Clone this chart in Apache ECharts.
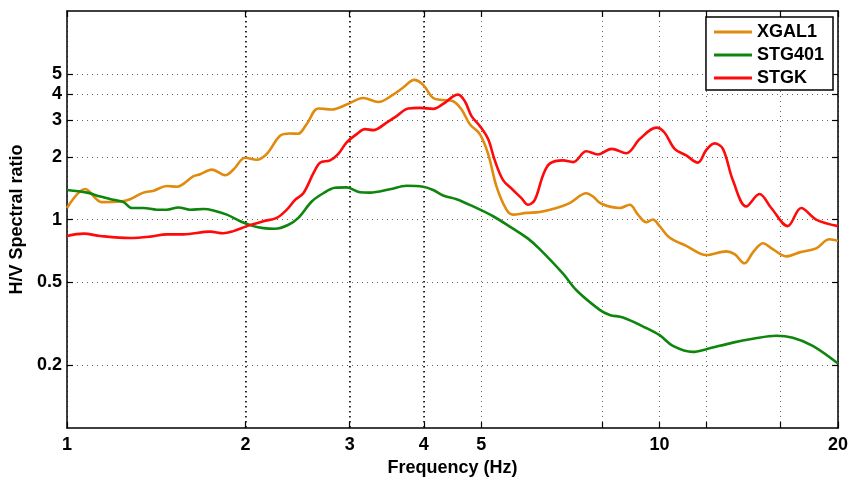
<!DOCTYPE html>
<html>
<head>
<meta charset="utf-8">
<script src="https://cdn.jsdelivr.net/npm/echarts@6/dist/echarts.min.js"></script>
<style>
  html, body { margin: 0; padding: 0; background: #fff; }
  #chart { width: 853px; height: 482px; }
</style>
</head>
<body>
<div id="chart"></div>
<script>
// H/V spectral ratio curves for three stations (frequency in Hz, ratio)
const xgalFreq = [1.000,1.073,1.145,1.230,1.278,1.346,1.400,1.474,1.532,1.635,1.678,1.756,1.849,1.909,1.998,2.090,2.174,2.288,2.378,2.454,2.538,2.655,2.797,2.965,3.162,3.352,3.551,3.692,3.854,3.990,4.148,4.313,4.483,4.632,4.784,4.973,5.136,5.307,5.515,5.658,5.961,6.277,6.698,7.051,7.522,7.719,7.975,8.564,8.902,9.193,9.497,9.743,10.00,10.39,11.09,11.99,12.96,13.38,13.91,14.37,14.94,15.52,16.35,17.22,18.37,19.34,20.00];
const xgalRatio = [1.136,1.401,1.212,1.220,1.252,1.346,1.375,1.448,1.437,1.614,1.650,1.736,1.632,1.736,1.979,1.936,2.066,2.522,2.586,2.577,2.873,3.410,3.372,3.560,3.826,3.663,3.970,4.298,4.675,4.426,3.826,3.743,3.690,3.372,2.864,2.569,2.066,1.437,1.115,1.056,1.076,1.087,1.136,1.199,1.337,1.289,1.190,1.136,1.177,1.056,0.971,1.000,0.930,0.820,0.748,0.676,0.704,0.683,0.617,0.696,0.770,0.721,0.666,0.696,0.727,0.804,0.790];

const stgFreq = [1.000,1.081,1.138,1.198,1.246,1.287,1.346,1.418,1.474,1.542,1.614,1.699,1.766,1.861,1.960,2.063,2.145,2.244,2.360,2.457,2.588,2.707,2.833,2.965,3.121,3.245,3.507,3.741,3.990,4.148,4.313,4.543,4.845,5.236,5.658,5.998,6.277,6.871,7.238,7.924,8.237,8.673,9.497,10.00,10.53,11.38,11.99,13.29,14.37,15.73,16.78,18.13,20.00];
const stgRatio = [1.386,1.346,1.289,1.243,1.212,1.136,1.136,1.115,1.115,1.143,1.115,1.123,1.106,1.056,0.982,0.930,0.910,0.904,0.942,1.019,1.220,1.337,1.421,1.427,1.352,1.346,1.397,1.453,1.437,1.386,1.303,1.252,1.156,1.037,0.904,0.810,0.721,0.550,0.458,0.369,0.349,0.339,0.302,0.279,0.248,0.232,0.239,0.257,0.268,0.277,0.271,0.248,0.204];

const stgkFreq = [1.000,1.067,1.138,1.278,1.382,1.474,1.572,1.744,1.836,1.909,2.011,2.145,2.259,2.349,2.426,2.505,2.604,2.673,2.779,2.870,2.965,3.082,3.183,3.287,3.462,3.599,3.765,3.939,4.148,4.313,4.483,4.571,4.692,4.815,4.973,5.136,5.271,5.443,5.658,5.846,5.998,6.157,6.358,6.525,6.871,7.144,7.522,7.870,8.292,8.788,9.254,9.872,10.19,10.60,11.09,11.60,11.99,12.38,12.79,13.29,14.00,14.74,15.43,16.45,17.33,18.37,20.00];
const stgkRatio = [0.834,0.856,0.834,0.816,0.828,0.849,0.849,0.875,0.859,0.880,0.930,0.982,1.019,1.115,1.243,1.337,1.663,1.874,1.921,2.066,2.344,2.569,2.713,2.684,2.915,3.135,3.410,3.432,3.395,3.584,3.897,3.970,3.690,3.135,2.812,2.432,1.921,1.546,1.386,1.266,1.177,1.243,1.632,1.854,1.921,1.886,2.126,2.051,2.183,2.080,2.432,2.760,2.614,2.183,2.029,1.874,2.159,2.319,2.183,1.546,1.156,1.327,1.136,0.930,1.136,1.000,0.930];

const seriesNames = ['XGAL1', 'STG401', 'STGK'];

// Tick positions and labelled ticks
const freqTicks = [1, 2, 3, 4, 5, 8, 10, 12, 16, 20];
const freqLabels = [1, 2, 3, 4, 5, 10, 20];
const freqMajorGrid = [2, 3, 4];
const ratioTicks = [0.2, 0.5, 1, 2, 3, 4, 5];

const pairs = (xs, ys) => xs.map((x, i) => [x, ys[i]]);

const labelFont = { fontFamily: 'Liberation Sans', fontWeight: 'bold', fontSize: 18, color: '#000' };
const frameLine = { show: true, lineStyle: { color: '#000', width: 1.5 } };
const greyGrid = { show: true, lineStyle: { color: '#666', width: 1, type: [1, 4] } };

const chart = echarts.init(document.getElementById('chart'), null, { renderer: 'canvas' });

chart.setOption({
  animation: false,
  backgroundColor: '#fff',
  grid: { left: 67, right: 15, top: 11, bottom: 53, containLabel: false },
  legend: {
    orient: 'vertical',
    right: 20,
    top: 17,
    padding: [6, 9, 3, 8],
    itemGap: 5,
    itemWidth: 38,
    itemHeight: 3,
    icon: 'rect',
    borderColor: '#000',
    borderWidth: 1.5,
    backgroundColor: '#fff',
    textStyle: Object.assign({ lineHeight: 18, padding: [0, 0, 0, 0] }, labelFont),
    data: seriesNames
  },
  xAxis: [
    {
      type: 'log', logBase: 10, min: 1, max: 20,
      name: 'Frequency (Hz)', nameLocation: 'middle', nameGap: 23,
      nameTextStyle: labelFont,
      axisLine: frameLine,
      axisTick: { show: true, inside: true, length: 6, customValues: freqTicks, lineStyle: { color: '#000', width: 1.2 } },
      axisLabel: Object.assign({ customValues: freqLabels, margin: 8, formatter: v => String(v) }, labelFont),
      splitLine: greyGrid,
      minorTick: { show: false }
    },
    {
      type: 'log', logBase: 10, min: 1, max: 20, position: 'top',
      axisLine: frameLine,
      axisTick: { show: true, inside: true, length: 6, customValues: freqTicks, lineStyle: { color: '#000', width: 1.2 } },
      axisLabel: { show: false },
      splitLine: { show: false }
    },
    {
      type: 'log', logBase: 10, min: 1, max: 20, position: 'bottom',
      axisLine: { show: false },
      axisTick: { show: false, customValues: freqMajorGrid },
      axisLabel: { show: false },
      splitLine: { show: true, lineStyle: { color: '#000', width: 1.5, type: [1.5, 3.5] } }
    }
  ],
  yAxis: [
    {
      type: 'log', logBase: 10, min: 0.1, max: 10,
      name: 'H/V Spectral ratio', nameLocation: 'middle', nameGap: 34,
      nameTextStyle: labelFont,
      axisLine: frameLine,
      axisTick: { show: true, inside: true, length: 6, customValues: ratioTicks, lineStyle: { color: '#000', width: 1.2 } },
      axisLabel: Object.assign({ customValues: ratioTicks, margin: 5, formatter: v => String(v) }, labelFont),
      splitLine: greyGrid
    },
    {
      type: 'log', logBase: 10, min: 0.1, max: 10, position: 'right',
      axisLine: frameLine,
      axisTick: { show: true, inside: true, length: 6, customValues: ratioTicks, lineStyle: { color: '#000', width: 1.2 } },
      axisLabel: { show: false },
      splitLine: { show: false }
    }
  ],
  series: [
    {
      name: seriesNames[0], type: 'line', xAxisIndex: 0, yAxisIndex: 0,
      data: pairs(xgalFreq, xgalRatio), smooth: 0.35, showSymbol: false,
      color: '#E08A0E', lineStyle: { width: 2.6 }
    },
    {
      name: seriesNames[1], type: 'line', xAxisIndex: 0, yAxisIndex: 0,
      data: pairs(stgFreq, stgRatio), smooth: 0.35, showSymbol: false,
      color: '#0E860E', lineStyle: { width: 2.6 }
    },
    {
      name: seriesNames[2], type: 'line', xAxisIndex: 0, yAxisIndex: 0,
      data: pairs(stgkFreq, stgkRatio), smooth: 0.35, showSymbol: false,
      color: '#FF0A0A', lineStyle: { width: 2.6 }
    }
  ]
});
</script>
</body>
</html>
